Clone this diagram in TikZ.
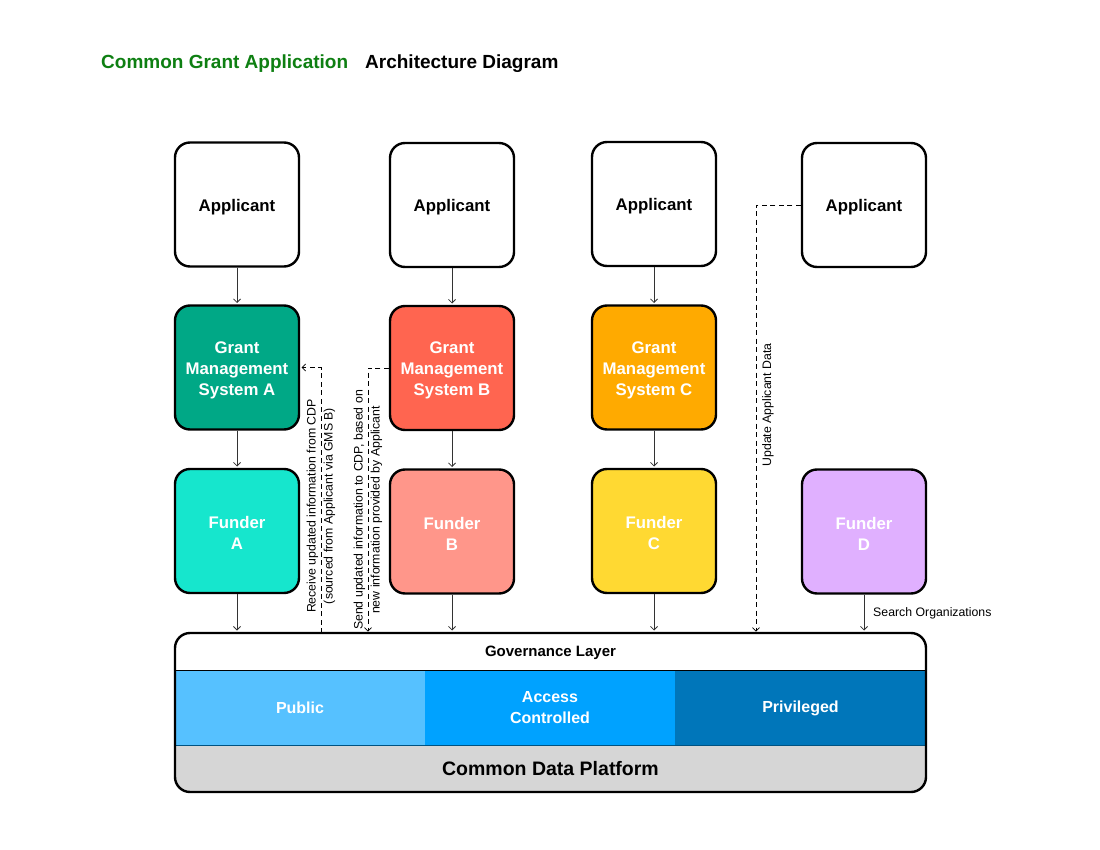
\documentclass[tikz,border=0pt]{standalone}
\usepackage{fontspec}
\setmainfont{Liberation Sans}
\usetikzlibrary{arrows.meta}
\definecolor{gmsA}{HTML}{00A886}
\definecolor{gmsB}{HTML}{FF6550}
\definecolor{gmsC}{HTML}{FFAA00}
\definecolor{fA}{HTML}{16E6CD}
\definecolor{fB}{HTML}{FF968A}
\definecolor{fC}{HTML}{FFD932}
\definecolor{fD}{HTML}{E0B0FF}
\definecolor{pub}{HTML}{56C1FF}
\definecolor{acc}{HTML}{00A2FF}
\definecolor{priv}{HTML}{0076BA}
\definecolor{plat}{HTML}{D6D6D6}
\definecolor{ttl}{HTML}{0E7F12}
\definecolor{conn}{HTML}{333333}
\begin{document}
\begin{tikzpicture}[x=1pt,y=-1pt,
  box/.style={draw=black, line width=2.4pt, rounded corners=15pt, minimum width=124pt, minimum height=124pt, align=center, inner sep=0pt, font=\bfseries\fontsize{16.8}{21}\selectfont},
  appbox/.style={box, fill=white, text height=16.5pt},
  gmsbox/.style={box, text=white, text height=59pt},
  fundbox/.style={box, text=white, text height=37.5pt},
  arr/.style={draw=conn, line width=0.8pt, -{Straight Barb[length=3.5pt,width=7pt]}, shorten >=1.3pt},
  dasharr/.style={arr, draw=black, dash pattern=on 5pt off 3.5pt},
  lbl/.style={align=center, inner sep=0pt, font=\fontsize{12.3}{17}\selectfont},
  band/.style={inner sep=0pt, align=center, text=white, font=\bfseries\fontsize{16}{21}\selectfont},
  ttlstyle/.style={anchor=west, inner sep=0pt, font=\bfseries\fontsize{19}{23}\selectfont}
]
\useasboundingbox (0,0) rectangle (1100,850);

% title
\node[ttlstyle, text=ttl] (t1) at (101,64) {Common Grant Application};
\node[ttlstyle] (t2) at (365,64) {Architecture Diagram};

% applicants
\node[appbox] (appA) at (237,204.5) {Applicant};
\node[appbox] (appB) at (452,205) {Applicant};
\node[appbox] (appC) at (654,204) {Applicant};
\node[appbox] (appD) at (864,205) {Applicant};

% grant management systems
\node[gmsbox, fill=gmsA] (gmsA) at (237,367.5) {Grant\\Management\\System A};
\node[gmsbox, fill=gmsB] (gmsB) at (452,368) {Grant\\Management\\System B};
\node[gmsbox, fill=gmsC] (gmsC) at (654,367.5) {Grant\\Management\\System C};

% funders
\node[fundbox, fill=fA] (fundA) at (237,531) {Funder\\A};
\node[fundbox, fill=fB] (fundB) at (452,531.5) {Funder\\B};
\node[fundbox, fill=fC] (fundC) at (654,531) {Funder\\C};
\node[fundbox, fill=fD] (fundD) at (864,531.5) {Funder\\D};

% common data platform
\begin{scope}
  \clip[rounded corners=15pt] (175,633) rectangle (926,792);
  \node[fill=white, minimum width=751pt, minimum height=38pt, inner sep=0pt, font=\bfseries\fontsize{15}{19}\selectfont] (gov) at (550.5,653) {Governance Layer};
  \node[band, fill=pub, minimum width=250pt, minimum height=74pt] (pubband) at (300,708) {Public};
  \node[band, fill=acc, minimum width=250pt, minimum height=74pt] (accband) at (550,708) {Access\\Controlled};
  \node[band, fill=priv, minimum width=251pt, minimum height=74pt] (privband) at (800.5,708) {Privileged};
  \node[fill=plat, minimum width=751pt, minimum height=47pt, inner sep=0pt, font=\bfseries\fontsize{19.5}{23}\selectfont] (platlbl) at (550.5,768.5) {Common Data Platform};
  \draw[line width=0.8pt] (pubband.north west) -- (privband.north east);
  \draw[line width=0.6pt, draw=priv!70!black] (pubband.south west) -- (privband.south east);
\end{scope}
\node[draw=black, line width=2.4pt, rounded corners=15pt, minimum width=751pt, minimum height=159pt, inner sep=0pt] (cdp) at (550.5,712.5) {};

% solid connectors
\draw[arr] (appA) -- (gmsA);
\draw[arr] (appB) -- (gmsB);
\draw[arr] (appC) -- (gmsC);
\draw[arr] (gmsA) -- (fundA);
\draw[arr] (gmsB) -- (fundB);
\draw[arr] (gmsC) -- (fundC);
\draw[arr] (fundA.south) -- (fundA.south |- cdp.north);
\draw[arr] (fundB.south) -- (fundB.south |- cdp.north);
\draw[arr] (fundC.south) -- (fundC.south |- cdp.north);
\draw[arr] (fundD.south) -- (fundD.south |- cdp.north);
\node[lbl, anchor=west] (srch) at (873,613) {Search Organizations};

% dashed connectors
\coordinate (r1) at (321,633);
\coordinate (r2) at (368,633);
\coordinate (r3) at (756,633);
\draw[dasharr] (r1) |- (gmsA.east);
\draw[dasharr] (gmsB.west) -| (r2);
\draw[dasharr] (appD.west) -| (r3);

\node[lbl, rotate=90] (l1) at (321,506) {Receive updated information from CDP\\(sourced from Applicant via GMS B)};
\node[lbl, rotate=90] (l2) at (368,510) {Send updated information to CDP, based on\\new information provided by Applicant};
\node[lbl, rotate=90] (l3) at (768,405) {Update Applicant Data};
\end{tikzpicture}
\end{document}
